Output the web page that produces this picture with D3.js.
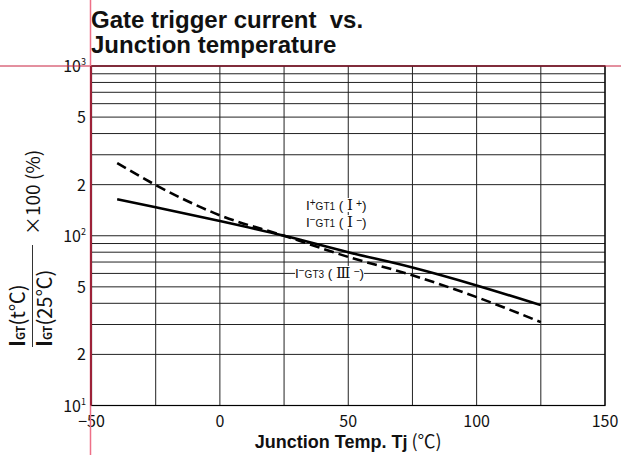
<!DOCTYPE html>
<html>
<head>
<meta charset="utf-8">
<script src="https://cdn.jsdelivr.net/npm/d3@7"></script>
<style>
  body { margin: 0; background: #fff; }
  svg { display: block; }
</style>
</head>
<body>
<svg id="chart" width="621" height="455"></svg>
<script>
// Junction temperature (°C) sample points
const tempC = [-40, -25, 0, 25, 50, 75, 100, 125];
// Normalised gate trigger current IGT(t)/IGT(25°C) x100 (%)
const igtQuadrant1 = [164, 147, 122, 100, 80, 65, 51, 39];     // I+GT1 (I+), I-GT1 (I-)
const igtQuadrant3 = [268, 199, 132, 100, 75, 58.5, 43.5, 31]; // I-GT3 (III-)

// Axis ticks and labels
const xGridValues = [-50, -25, 0, 25, 50, 75, 100, 125, 150];
const xTickValues = [-50, 0, 50, 100, 150];
const yTickValues = [10, 20, 50, 100, 200, 500, 1000];
const yTickMain = ["10", "2", "5", "10", "2", "5", "10"];
const yTickExp = ["1", "", "", "2", "", "", "3"];

const svg = d3.select("#chart");
const W = 621, H = 455;
const plot = { left: 91.5, right: 605, top: 66, bottom: 405.5 };

const x = d3.scaleLinear().domain([-50, 150]).range([plot.left, plot.right]);
const y = d3.scaleLog().domain([10, 1000]).range([plot.bottom, plot.top]);

const cjk = "'Noto Sans CJK JP', 'Noto Sans', sans-serif";
const latin = "'Liberation Sans', Arial, Helvetica, sans-serif";
const numeralFont = "'Liberation Serif', 'DejaVu Serif', serif";

// Grid
const grid = svg.append("g").attr("stroke", "#222").attr("stroke-width", 1);
grid.selectAll("line.h").data(y.ticks()).join("line")
  .attr("class", "h")
  .attr("x1", plot.left).attr("x2", plot.right)
  .attr("y1", d => y(d)).attr("y2", d => y(d));
grid.selectAll("line.v").data(xGridValues).join("line")
  .attr("class", "v")
  .attr("x1", d => x(d)).attr("x2", d => x(d))
  .attr("y1", plot.top).attr("y2", plot.bottom);

svg.append("rect")
  .attr("x", plot.left).attr("y", plot.top)
  .attr("width", plot.right - plot.left).attr("height", plot.bottom - plot.top)
  .attr("fill", "none").attr("stroke", "#000").attr("stroke-width", 1.2);

// Curves
const line = d3.line()
  .x(d => x(d[0]))
  .y(d => y(d[1]))
  .curve(d3.curveMonotoneX);

svg.append("path")
  .datum(tempC.map((t, i) => [t, igtQuadrant3[i]]))
  .attr("d", line)
  .attr("fill", "none").attr("stroke", "#000")
  .attr("stroke-width", 2.6).attr("stroke-dasharray", "10,5");

svg.append("path")
  .datum(tempC.map((t, i) => [t, igtQuadrant1[i]]))
  .attr("d", line)
  .attr("fill", "none").attr("stroke", "#000")
  .attr("stroke-width", 2.6);

// Curve labels
function curveLabel(px, py, sign, mode, numeral) {
  const g = svg.append("g");
  const bg = g.append("rect").attr("fill", "#fff");
  const t = g.append("text")
    .attr("x", px).attr("y", py)
    .attr("font-family", latin).attr("fill", "#111");
  t.append("tspan").attr("font-size", 13.5).text("I");
  t.append("tspan").attr("font-size", 10).attr("dy", -4).text(sign);
  t.append("tspan").attr("font-size", 10).attr("dy", 4).text(mode);
  t.append("tspan").attr("font-size", 13.5).text("\u00a0(\u00a0");
  t.append("tspan").attr("font-size", 15).attr("font-family", numeralFont).text(numeral);
  t.append("tspan").attr("font-size", 10.5).attr("dy", -3).text("\u00a0" + sign);
  t.append("tspan").attr("font-size", 13.5).attr("dy", 3).text(")");
  const b = t.node().getBBox();
  bg.attr("x", b.x).attr("y", b.y + 1).attr("width", b.width).attr("height", b.height - 2);
}
curveLabel(306, 210, "+", "GT1", "Ⅰ");
curveLabel(306, 227, "−", "GT1", "Ⅰ");
curveLabel(295, 278, "−", "GT3", "Ⅲ");

// X tick labels
svg.append("g").selectAll("text").data(xTickValues).join("text")
  .attr("x", d => x(d)).attr("y", 427)
  .attr("text-anchor", "middle")
  .attr("font-family", cjk).attr("font-size", 16).attr("fill", "#111")
  .text(d => d < 0 ? "−" + Math.abs(d) : String(d));

// Y tick labels
const yt = svg.append("g").selectAll("text").data(yTickValues).join("text")
  .attr("x", 86).attr("y", d => y(d) + 6)
  .attr("text-anchor", "end")
  .attr("font-family", cjk).attr("font-size", 16).attr("fill", "#111");
yt.append("tspan").text((d, i) => yTickMain[i]);
yt.append("tspan").attr("font-size", 9).attr("dy", -7).text((d, i) => yTickExp[i]);

// X axis title
const xt = svg.append("text")
  .attr("x", (plot.left + plot.right) / 2).attr("y", 448)
  .attr("text-anchor", "middle").attr("fill", "#111");
xt.append("tspan").attr("font-family", latin).attr("font-weight", "bold").attr("font-size", 18)
  .text("Junction Temp. Tj");
xt.append("tspan").attr("font-family", cjk).attr("font-size", 18).text("\u00a0(℃)");

// Y axis title (rotated fraction)
const yl = svg.append("g").attr("transform", "translate(32.5,347) rotate(-90)");
yl.append("line").attr("x1", 0).attr("x2", 102).attr("y1", 0).attr("y2", 0)
  .attr("stroke", "#333").attr("stroke-width", 1);
function igtTerm(ty, arg) {
  const t = yl.append("text").attr("x", 0).attr("y", ty)
    .attr("font-family", cjk).attr("fill", "#111");
  t.append("tspan").attr("font-size", 21).attr("font-weight", "bold").text("I");
  t.append("tspan").attr("font-size", 11).attr("font-weight", "bold").text("GT");
  t.append("tspan").attr("font-size", 20).text("(" + arg + ")");
}
igtTerm(-8, "t℃");
igtTerm(19, "25℃");
yl.append("text").attr("x", 112).attr("y", 7.5)
  .attr("font-family", cjk).attr("font-size", 19).attr("fill", "#111")
  .text("×100\u00a0(%)");

// Title
const titleLines = ["Gate trigger current\u00a0\u00a0vs.", "Junction temperature"];
svg.append("g").selectAll("text").data(titleLines).join("text")
  .attr("x", 91).attr("y", (d, i) => 28 + i * 25)
  .attr("font-family", latin).attr("font-weight", "bold")
  .attr("font-size", 24).attr("fill", "#111")
  .text(d => d);

// Registration guide lines
svg.append("line").attr("x1", 0).attr("x2", W).attr("y1", 66).attr("y2", 66)
  .attr("stroke", "#c8203e").attr("stroke-width", 1);
svg.append("line").attr("x1", 90.5).attr("x2", 90.5).attr("y1", 0).attr("y2", H)
  .attr("stroke", "#ee7088").attr("stroke-width", 1.5);
svg.append("line").attr("x1", 91).attr("x2", 91).attr("y1", plot.top).attr("y2", plot.bottom)
  .attr("stroke", "#9c2238").attr("stroke-width", 2);
</script>
</body>
</html>
